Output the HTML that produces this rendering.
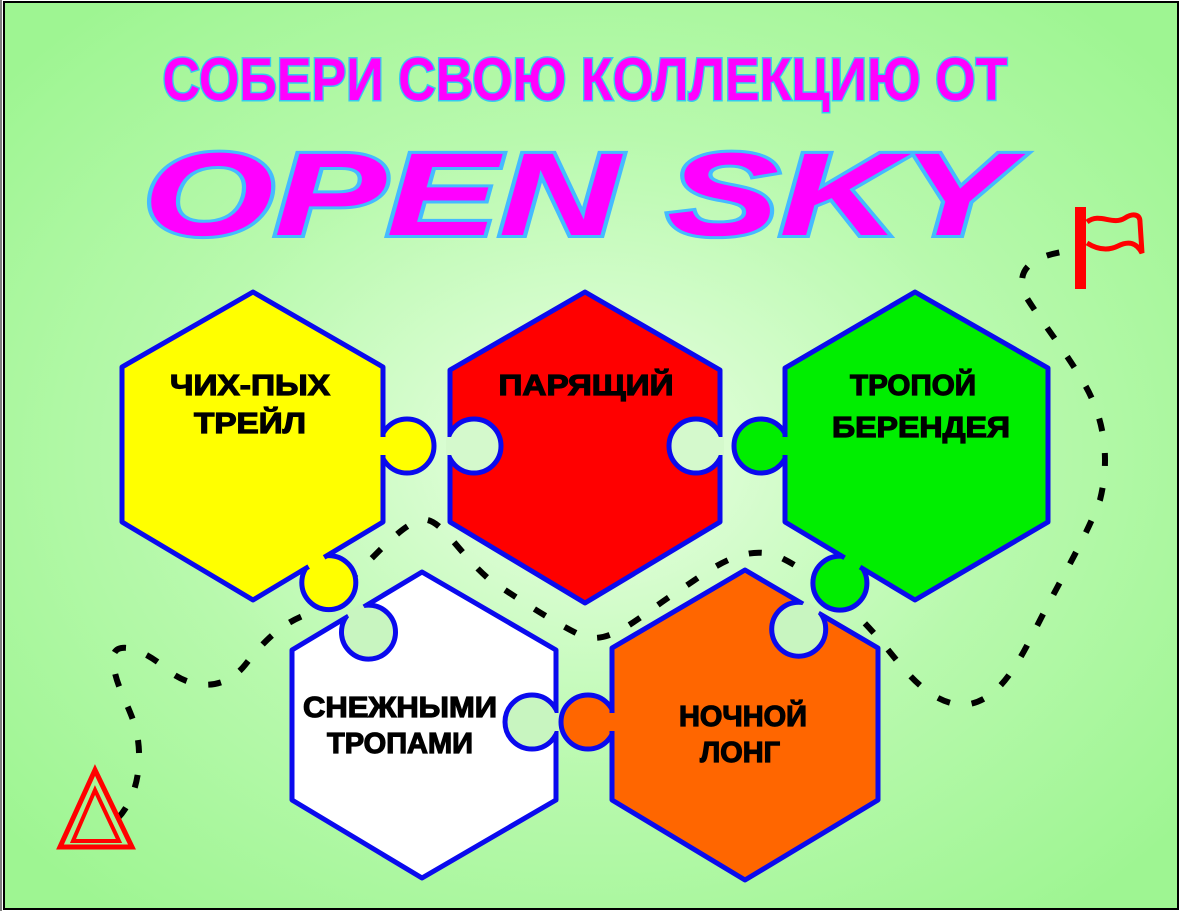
<!DOCTYPE html>
<html><head><meta charset="utf-8"><style>html,body{margin:0;padding:0;background:#fff}svg{display:block}</style></head>
<body>
<svg width="1183" height="911" viewBox="0 0 1183 911" xmlns="http://www.w3.org/2000/svg">
<defs>
<radialGradient id="bg" cx="50%" cy="50%" r="65%">
<stop offset="0" stop-color="#eaffe4"/><stop offset="0.55" stop-color="#b8f9ad"/><stop offset="1" stop-color="#9ef592"/>
</radialGradient>
<clipPath id="cr"><polygon points="585,292 720,370 720,522 585,603 450,522 450,370"/></clipPath>
<clipPath id="cw"><polygon points="422,572 556,650 556,800 422,878 292,800 292,650"/></clipPath>
<clipPath id="co"><polygon points="745,570 878,648 878,800 745,880 612,800 612,648"/></clipPath>
</defs>
<rect x="0" y="0" width="1183" height="911" fill="#fff"/>
<rect x="4" y="2" width="1174" height="907" fill="url(#bg)" stroke="#000" stroke-width="2"/>
<line x1="1" y1="0" x2="1" y2="911" stroke="#000" stroke-width="1"/>

<path d="M118,818 C135,800 142,770 138,740 C134,710 115,690 113,660 C112,640 140,645 170,672 C195,690 225,690 245,665 C265,640 280,625 305,615 C330,600 345,585 370,560 C390,540 405,525 420,520 C440,515 455,550 490,580 C520,600 550,620 580,635 C610,648 640,615 680,590 C710,570 740,545 775,555 C810,570 850,605 880,640 C905,670 925,700 960,705 C995,705 1015,670 1035,630 C1060,580 1085,540 1100,500 C1110,460 1105,420 1085,385 C1065,350 1040,320 1025,295 C1015,270 1030,255 1075,250"
 fill="none" stroke="#000" stroke-width="6" stroke-dasharray="13 22"/>

<g stroke="#0a0aee" stroke-width="5" stroke-linejoin="round">
<circle cx="407" cy="446" r="27" fill="#ffff00"/>
<circle cx="328.8" cy="582.6" r="27" fill="#ffff00"/>
<polygon points="253,292 383,367 383,522 253,600 122,522 122,367" fill="#ffff00"/>
<rect x="379" y="437" width="8" height="18" fill="#ffff00" stroke="none"/>
<rect x="307.4" y="558" width="18" height="8" fill="#ffff00" stroke="none" transform="rotate(-31 316.4 562)"/>

<polygon points="585,292 720,370 720,522 585,603 450,522 450,370" fill="#ff0000"/>
<g clip-path="url(#cr)">
<circle cx="474" cy="446" r="27" fill="#d4f9cc"/>
<circle cx="696" cy="446" r="27" fill="#d4f9cc"/>
</g>
<rect x="446" y="437" width="8" height="18" fill="#d4f9cc" stroke="none"/>
<rect x="716" y="437" width="8" height="18" fill="#d4f9cc" stroke="none"/>

<circle cx="761" cy="446" r="27" fill="#00ee00"/>
<circle cx="839.9" cy="583.1" r="27" fill="#00ee00"/>
<polygon points="915,292 1048,368 1048,522 915,600 785,522 785,368" fill="#00ee00"/>
<rect x="781" y="437" width="8" height="18" fill="#00ee00" stroke="none"/>
<rect x="843.3" y="558.5" width="18" height="8" fill="#00ee00" stroke="none" transform="rotate(31 852.3 562.5)"/>

<polygon points="422,572 556,650 556,800 422,878 292,800 292,650" fill="#ffffff"/>
<g clip-path="url(#cw)">
<circle cx="368.5" cy="632.1" r="27" fill="#c8f5c0"/>
<circle cx="532" cy="722" r="27" fill="#c8f5c0"/>
</g>
<rect x="347.1" y="607.5" width="18" height="8" fill="#c8f5c0" stroke="none" transform="rotate(-31 356.1 611.5)"/>
<rect x="552" y="713" width="8" height="18" fill="#c8f5c0" stroke="none"/>

<circle cx="588" cy="722" r="27" fill="#ff6600"/>
<polygon points="745,570 878,648 878,800 745,880 612,800 612,648" fill="#ff6600"/>
<g clip-path="url(#co)">
<circle cx="798.7" cy="629.2" r="27" fill="#c8f5c0"/>
</g>
<rect x="608" y="713" width="8" height="18" fill="#ff6600" stroke="none"/>
<rect x="801.8" y="604.5" width="18" height="8" fill="#c8f5c0" stroke="none" transform="rotate(30.4 810.8 608.5)"/>
</g>

<text x="585" y="100" text-anchor="middle" textLength="845" lengthAdjust="spacingAndGlyphs" font-family="Liberation Sans, sans-serif" font-weight="bold" font-size="60" fill="#ff00ff" stroke="#33ccee" stroke-width="3" paint-order="stroke">СОБЕРИ СВОЮ КОЛЛЕКЦИЮ ОТ</text>
<text x="578" y="235" text-anchor="middle" textLength="870" lengthAdjust="spacingAndGlyphs" font-family="Liberation Sans, sans-serif" font-weight="bold" font-style="italic" font-size="118" fill="#ff00ff" stroke="#44bbff" stroke-width="6" paint-order="stroke">OPEN SKY</text>

<g font-family="Liberation Sans, sans-serif" font-weight="bold" font-size="29" fill="#000" stroke="#000" stroke-width="1.2" text-anchor="middle">
<text x="250" y="395" textLength="160" lengthAdjust="spacingAndGlyphs">ЧИХ-ПЫХ</text>
<text x="250" y="433" textLength="112" lengthAdjust="spacingAndGlyphs">ТРЕЙЛ</text>
<text x="586" y="395" textLength="175" lengthAdjust="spacingAndGlyphs">ПАРЯЩИЙ</text>
<text x="913" y="395" textLength="126" lengthAdjust="spacingAndGlyphs">ТРОПОЙ</text>
<text x="921" y="437" textLength="178" lengthAdjust="spacingAndGlyphs">БЕРЕНДЕЯ</text>
<text x="400" y="717" textLength="194" lengthAdjust="spacingAndGlyphs">СНЕЖНЫМИ</text>
<text x="400" y="753" textLength="146" lengthAdjust="spacingAndGlyphs">ТРОПАМИ</text>
<text x="743" y="726" textLength="128" lengthAdjust="spacingAndGlyphs">НОЧНОЙ</text>
<text x="740" y="762" textLength="80" lengthAdjust="spacingAndGlyphs">ЛОНГ</text>
</g>

<rect x="1075" y="207" width="11" height="82" fill="#ff0000"/>
<path d="M1087,222 C1100,212 1112,226 1125,218 C1133,213 1140,214 1140,222 L1142,253 C1136,242 1128,241 1118,246 C1106,252 1095,248 1087,243" fill="none" stroke="#ff0000" stroke-width="5"/>
<polygon points="95,770 60,847 132,847" fill="none" stroke="#ff0000" stroke-width="5"/>
<polygon points="95,790 73,841 119,841" fill="none" stroke="#ff0000" stroke-width="4"/>
</svg>
</body></html>
